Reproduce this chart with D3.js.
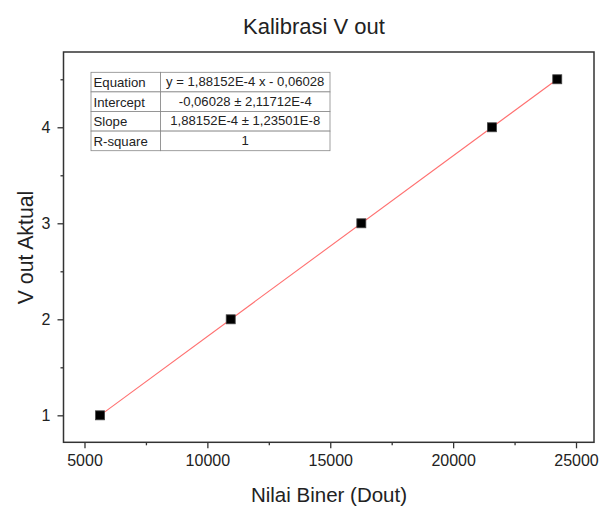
<!DOCTYPE html>
<html><head><meta charset="utf-8">
<script src="https://cdn.jsdelivr.net/npm/d3@7"></script>
<style>body{margin:0;background:#fff}svg{display:block}text{font-family:"Liberation Sans",Arial,sans-serif}</style>
</head><body>
<script>
const xValues = [5635, 10950, 16265, 21580, 24237];
const yValues = [1, 2, 3, 4, 4.5];
const xTicks = [5000, 10000, 15000, 20000, 25000];
const yTicks = [1, 2, 3, 4];
const slope = 1.88152e-4, intercept = -0.06028;
const tableRows = [
  ["Equation", "y = 1,88152E-4 x - 0,06028"],
  ["Intercept", "-0,06028 ± 2,11712E-4"],
  ["Slope", "1,88152E-4 ± 1,23501E-8"],
  ["R-square", "1"]
];
const title = "Kalibrasi V out", xLabel = "Nilai Biner (Dout)", yLabel = "V out Aktual";

const W = 608, H = 507;
const L = 63.5, R = 594, T = 52, B = 442.3;
const svg = d3.select("body").append("svg").attr("width", W).attr("height", H);
const x = d3.scaleLinear().domain([4146, 25732]).range([L, R]);
const y = d3.scaleLinear().domain([0.719, 4.784]).range([B, T]);

// axes
const xMinor = d3.range(7500, 25000, 5000);
const yMinor = [1.5, 2.5, 3.5, 4.5];
const gx = svg.append("g").attr("transform", `translate(0,${B})`);
gx.call(d3.axisBottom(x).tickValues(xTicks).tickFormat(d3.format("d")).tickSize(6).tickPadding(6.5));
gx.append("g").call(d3.axisBottom(x).tickValues(xMinor).tickFormat("").tickSize(3));
const gy = svg.append("g").attr("transform", `translate(${L},0)`);
gy.call(d3.axisLeft(y).tickValues(yTicks).tickFormat(d3.format("d")).tickSize(6).tickPadding(7));
gy.append("g").call(d3.axisLeft(y).tickValues(yMinor).tickFormat("").tickSize(3));
svg.selectAll(".domain").remove();
svg.selectAll(".tick line").attr("stroke", "#333").attr("stroke-width", 1.3);
svg.selectAll(".tick text").attr("font-size", 16).attr("fill", "#222")
  .style("font-family", '"Liberation Sans",Arial,sans-serif');

// frame
svg.append("rect").attr("x", L).attr("y", T).attr("width", R - L).attr("height", B - T)
  .attr("fill", "none").attr("stroke", "#333").attr("stroke-width", 1.5);

// fit line
const x0 = d3.min(xValues), x1 = d3.max(xValues);
svg.append("line").attr("x1", x(x0)).attr("y1", y(slope * x0 + intercept))
  .attr("x2", x(x1)).attr("y2", y(slope * x1 + intercept))
  .attr("stroke", "#ff7070").attr("stroke-width", 1.1);

// points
svg.selectAll("rect.pt").data(xValues).enter().append("rect").attr("class", "pt")
  .attr("x", (d) => x(d) - 4.5).attr("y", (d, i) => y(yValues[i]) - 4.5)
  .attr("width", 9).attr("height", 9).attr("fill", "#000").attr("stroke", "#444").attr("stroke-width", 0.8);

// table
const tx = 91, ty = 72.3, rh = 19.6, c1 = 69.5, c2 = 169.5;
const tg = svg.append("g");
tableRows.forEach((r, i) => {
  tg.append("rect").attr("x", tx).attr("y", ty + i * rh).attr("width", c1).attr("height", rh)
    .attr("fill", "#fff").attr("stroke", "#888").attr("stroke-width", 0.8);
  tg.append("rect").attr("x", tx + c1).attr("y", ty + i * rh).attr("width", c2).attr("height", rh)
    .attr("fill", "#fff").attr("stroke", "#888").attr("stroke-width", 0.8);
  tg.append("text").attr("x", tx + 2.5).attr("y", ty + i * rh + rh / 2 + 5).attr("font-size", 13.2)
    .attr("fill", "#222").text(r[0]);
  tg.append("text").attr("x", tx + c1 + c2 / 2).attr("y", ty + i * rh + rh / 2 + 4).attr("font-size", 13.1)
    .attr("text-anchor", "middle").attr("fill", "#222").text(r[1]);
});

// labels
svg.append("text").attr("x", 314).attr("y", 33.5).attr("text-anchor", "middle").attr("font-size", 22)
  .attr("fill", "#222").text(title);
svg.append("text").attr("x", 329).attr("y", 502).attr("text-anchor", "middle").attr("font-size", 20.5)
  .attr("fill", "#222").text(xLabel);
svg.append("text").attr("transform", `translate(33,247.5) rotate(-90)`).attr("text-anchor", "middle")
  .attr("font-size", 21.3).attr("fill", "#222").text(yLabel);
</script>
</body></html>
